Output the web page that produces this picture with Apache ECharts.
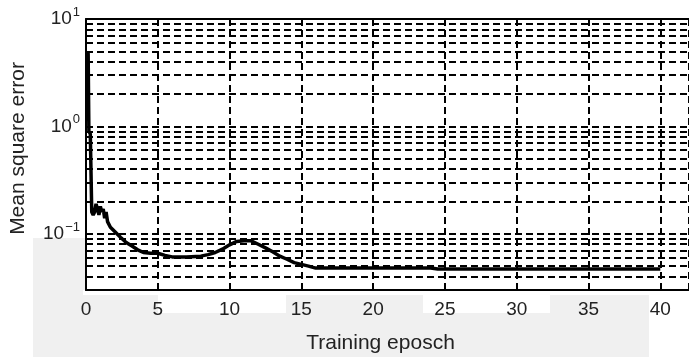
<!DOCTYPE html>
<html>
<head>
<meta charset="utf-8">
<script src="https://cdn.jsdelivr.net/npm/echarts@6/dist/echarts.min.js"></script>
<style>
  html, body { margin: 0; padding: 0; background: #fff; }
  #chart { width: 689px; height: 357px; }
</style>
</head>
<body>
<div id="chart"></div>
<script>
// training curve
const epochs = [0, 0.15, 0.2, 0.3, 0.4, 0.5, 0.6, 0.7, 0.8, 0.9, 1.0, 1.1, 1.2, 1.3, 1.4, 1.5, 1.7, 2.0, 2.4, 2.8, 3.2, 3.6, 4.0, 4.5, 5.0, 5.5, 6, 7, 8, 8.5, 9, 9.5, 10, 10.5, 11, 11.5, 12, 12.5, 13, 13.5, 14, 14.5, 15, 15.5, 16, 20, 24, 24.5, 30, 35, 40]
const mse = [4.8, 4.8, 0.9, 0.85, 0.16, 0.15, 0.16, 0.19, 0.17, 0.15, 0.18, 0.16, 0.17, 0.14, 0.16, 0.13, 0.115, 0.105, 0.093, 0.083, 0.077, 0.071, 0.067, 0.066, 0.066, 0.063, 0.061, 0.061, 0.062, 0.064, 0.067, 0.072, 0.079, 0.085, 0.086, 0.086, 0.08, 0.074, 0.068, 0.062, 0.058, 0.054, 0.052, 0.05, 0.048, 0.048, 0.048, 0.047, 0.047, 0.047, 0.047]

// log grid lines (minor + major decades)
const gridLevels = [0.04, 0.05, 0.06, 0.07, 0.08, 0.09, 0.1, 0.2, 0.3, 0.4, 0.5, 0.6, 0.7, 0.8, 0.9, 1, 2, 3, 4, 5, 6, 7, 8, 9]
const xTicks = [0, 5, 10, 15, 20, 25, 30, 35, 40]

const FONT = 'Liberation Sans, Arial, sans-serif'
const dash = [7, 4]

const chart = echarts.init(document.getElementById('chart'))

const gray = '#f0f0f0'
const rect = (x, y, w, h, fill) => ({ type: 'rect', z: -5, shape: { x, y, width: w, height: h }, style: { fill } })

chart.setOption({
  animation: false,
  backgroundColor: '#fff',
  textStyle: { fontFamily: FONT },
  // scan artefact: light grey patches around the axes
  graphic: [
    rect(33, 238, 616, 119, gray),
    rect(83, 290, 75, 5, '#fff'),
    rect(158, 290, 128, 23, '#fff'),
    rect(286, 290, 137, 5, '#fff'),
    rect(423, 290, 127, 23, '#fff'),
    rect(550, 290, 99, 5, '#fff')
  ],
  grid: {
    left: 86, right: 0, top: 19, bottom: 67,
    containLabel: false, outerBoundsMode: 'none',
    show: true, backgroundColor: '#fff', borderWidth: 0
  },
  xAxis: [{
    type: 'value',
    min: 0, max: 42, interval: 5,
    name: 'Training eposch',
    nameLocation: 'middle', nameGap: 43,
    nameTextStyle: { color: '#222', fontSize: 21, fontFamily: FONT, padding: [0, 14, 0, 0] },
    axisLine: { show: true, lineStyle: { color: '#000', width: 2 } },
    axisTick: { show: false },
    axisLabel: {
      color: '#222', fontSize: 19, fontFamily: FONT, margin: 10,
      formatter: v => (xTicks.includes(v) ? String(v) : '')
    },
    splitLine: { show: true, lineStyle: { color: '#000', width: 2, type: dash } }
  }, {
    type: 'value', position: 'top', min: 0, max: 42,
    axisLine: { show: true, lineStyle: { color: '#000', width: 2 } },
    axisTick: { show: false }, axisLabel: { show: false }, splitLine: { show: false }
  }],
  yAxis: {
    type: 'log', logBase: 10,
    min: 0.03, max: 10,
    name: 'Mean square error',
    nameLocation: 'middle', nameGap: 57,
    nameTextStyle: { color: '#222', fontSize: 21, fontFamily: FONT, padding: [0, 0, 0, 12] },
    axisLine: { show: true, lineStyle: { color: '#000', width: 2 } },
    axisTick: { show: false },
    splitLine: { show: false },
    axisLabel: {
      margin: 6,
      formatter: v => {
        const e = Math.round(Math.log10(v))
        if (Math.abs(Math.log10(v) - e) > 1e-6) return ''
        return '{b|10}{e|' + (e < 0 ? '\u2212' + (-e) : e) + '}'
      },
      rich: {
        b: { fontSize: 19, color: '#222', fontFamily: FONT },
        e: { fontSize: 13, color: '#222', fontFamily: FONT, padding: [0, 0, 13, 1] }
      }
    }
  },
  series: [{
    type: 'line',
    data: epochs.map((x, i) => [x, mse[i]]),
    showSymbol: false,
    lineStyle: { color: '#000', width: 3.5 },
    z: 5,
    markLine: {
      silent: true, symbol: 'none', animation: false,
      label: { show: false },
      lineStyle: { color: '#000', width: 2, type: dash },
      data: gridLevels.map(v => ({ yAxis: v }))
    }
  }]
})
</script>
</body>
</html>
